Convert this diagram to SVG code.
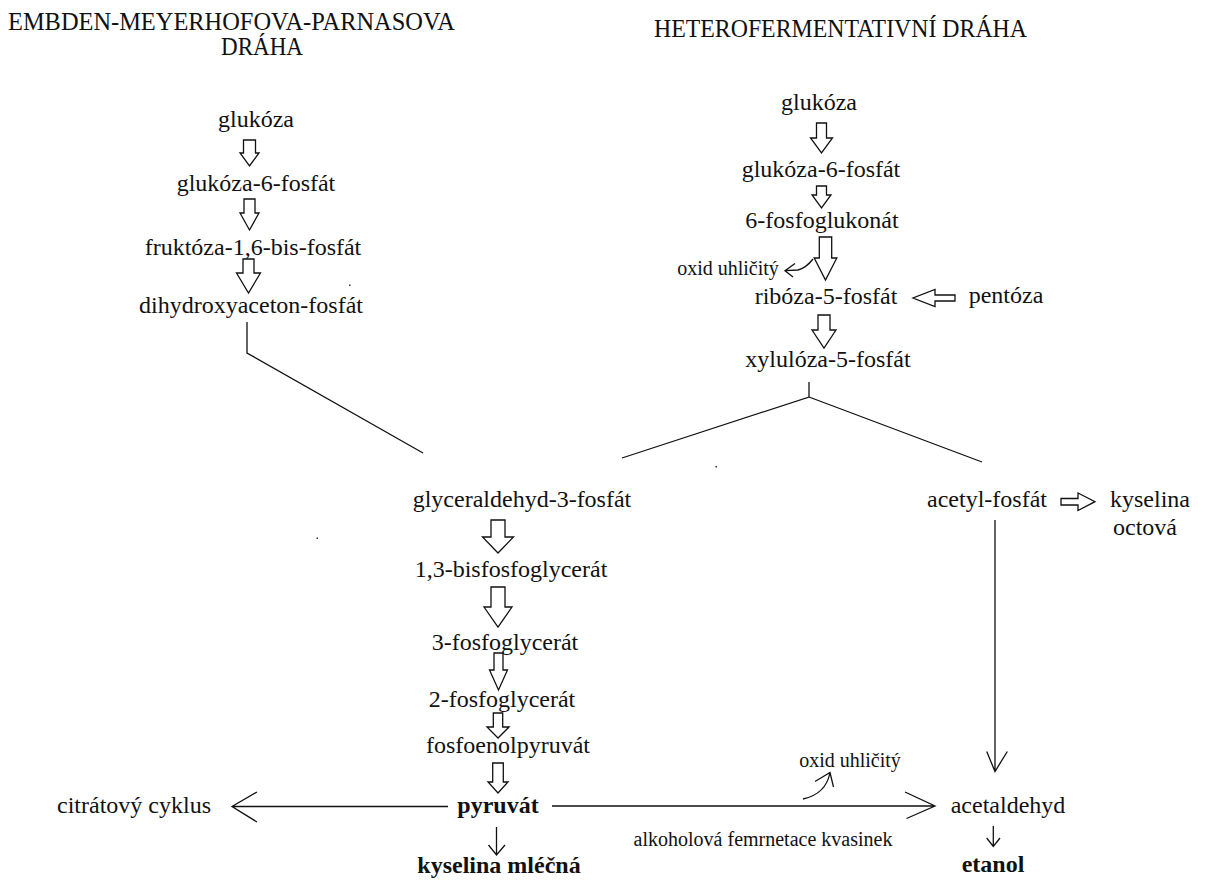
<svg xmlns="http://www.w3.org/2000/svg" width="1208" height="881" viewBox="0 0 1208 881">
<style>
text{font-family:"Liberation Serif","Times New Roman",serif;fill:#111;font-size:24px}
.m{text-anchor:middle}
.b{font-weight:bold}
.s{font-size:20px}
.h{font-size:25px}
.ha{fill:#fff;stroke:#111;stroke-width:1.3;stroke-linejoin:miter}
.ln{fill:none;stroke:#111;stroke-width:1.3}
</style>
<rect width="1208" height="881" fill="#fff"/>
<g id="headers">
<text class="h" x="8" y="30" textLength="447" lengthAdjust="spacingAndGlyphs">EMBDEN-MEYERHOFOVA-PARNASOVA</text>
<text class="h" x="221" y="55" textLength="82" lengthAdjust="spacingAndGlyphs">DRÁHA</text>
<text class="h" x="654" y="37" textLength="373" lengthAdjust="spacingAndGlyphs">HETEROFERMENTATIVNÍ DRÁHA</text>
</g>
<g id="n-glukoza-l"><text class="m" x="256" y="127">glukóza</text></g>
<g id="n-g6p-l"><text class="m" x="256" y="191">glukóza-6-fosfát</text></g>
<g id="n-f16bp"><text class="m" x="253" y="255">fruktóza-1,6-bis-fosfát</text></g>
<g id="n-dhap"><text class="m" x="251" y="313">dihydroxyaceton-fosfát</text></g>
<g id="n-glukoza-r"><text class="m" x="819" y="110">glukóza</text></g>
<g id="n-g6p-r"><text class="m" x="821" y="177">glukóza-6-fosfát</text></g>
<g id="n-6pg"><text class="m" x="822" y="228">6-fosfoglukonát</text></g>
<g id="n-co2-top"><text class="s m" x="728" y="275">oxid uhličitý</text></g>
<g id="n-r5p"><text class="m" x="826" y="304">ribóza-5-fosfát</text></g>
<g id="n-pentoza"><text class="m" x="1006" y="303">pentóza</text></g>
<g id="n-x5p"><text class="m" x="828" y="367">xylulóza-5-fosfát</text></g>
<g id="n-gap"><text class="m" x="522" y="507">glyceraldehyd-3-fosfát</text></g>
<g id="n-acetylp"><text class="m" x="987" y="507">acetyl-fosfát</text></g>
<g id="n-octova"><text x="1110" y="507">kyselina</text><text x="1113" y="535">octová</text></g>
<g id="n-13bpg"><text class="m" x="511" y="577">1,3-bisfosfoglycerát</text></g>
<g id="n-3pg"><text class="m" x="505" y="650">3-fosfoglycerát</text></g>
<g id="n-2pg"><text class="m" x="502" y="707">2-fosfoglycerát</text></g>
<g id="n-pep"><text class="m" x="508" y="753">fosfoenolpyruvát</text></g>
<g id="n-co2-bottom"><text class="s m" x="850" y="767">oxid uhličitý</text></g>
<g id="n-citrat"><text class="m" x="134" y="813">citrátový cyklus</text></g>
<g id="n-pyruvat"><text class="m b" x="498" y="813">pyruvát</text></g>
<g id="n-acetaldehyd"><text class="m" x="1008" y="813">acetaldehyd</text></g>
<g id="n-alkohol"><text class="s m" x="763" y="846">alkoholová femrnetace kvasinek</text></g>
<g id="n-laktat"><text class="m b" x="499" y="873">kyselina mléčná</text></g>
<g id="n-etanol"><text class="m b" x="993" y="872">etanol</text></g>
<g id="connectors">
<polygon class="ha" points="243.5,140 255.5,140 255.5,153 259,153 249.5,166 240,153 243.5,153"/>
<polygon class="ha" points="244,199 255,199 255,213 259,213 249.5,230 240,213 244,213"/>
<polygon class="ha" points="243,259 254,259 254,273 260.5,273 248.5,293 236.5,273 243,273"/>
<polygon class="ha" points="816.5,123 826.5,123 826.5,138 832.5,138 821.5,153 810.5,138 816.5,138"/>
<polygon class="ha" points="816.5,186 826.5,186 826.5,195 831,195 821.5,208 812,195 816.5,195"/>
<polygon class="ha" points="819.3,237 831.7,237 831.7,258 836.8,258 825.5,280 814.2,258 819.3,258"/>
<polygon class="ha" points="818,315 830,315 830,330 836,330 824,348 812,330 818,330"/>
<polygon class="ha" points="955,295 955,301 935,301 935,306.5 913,298 935,289.5 935,295"/>
<polygon class="ha" points="491,520 505,520 505,537 513.5,537 498,553 482.5,537 491,537"/>
<polygon class="ha" points="491,587 505,587 505,607 512,607 498,627 484,607 491,607"/>
<polygon class="ha" points="494,653 503,653 503,670 507.5,670 498.5,690 489.5,670 494,670"/>
<polygon class="ha" points="493.3,713 502.7,713 502.7,727 509,727 498,738 487,727 493.3,727"/>
<polygon class="ha" points="492.7,763 503.3,763 503.3,782 508,782 498,793 488,782 492.7,782"/>
<polygon class="ha" points="1061,498.5 1078,498.5 1078,493 1095,501.7 1078,510.5 1078,505 1061,505"/>
<path class="ln" d="M813,259 Q806,268 798,270 L785,270.7 M795,263.5 L785,270.7 L793,277"/>
<path class="ln" d="M247,322 V353 L423,453"/>
<path class="ln" d="M809,382 V397 L622,458 M809,397 L982,462"/>
<path class="ln" d="M995,520 V771.5 M986.7,751.5 L995,771.5 L1007.3,751.5"/>
<path class="ln" d="M448,806.5 H232 M257,792 L232,806.5 L257,822"/>
<path class="ln" d="M552,806 H935 M905,792 L935,806 L906.5,818.5"/>
<path class="ln" d="M803,799 Q826,794 830,772.5 M815,781.5 L830,772.5 L833.5,787"/>
<path class="ln" d="M496.5,827 V855 M488.5,845 L496.5,855 L505,845"/>
<path class="ln" d="M993.3,826 V846.5 M986.7,838 L993.3,846.5 L1000,838"/>
</g>
<g id="specks" fill="#333">
<rect x="349" y="284.5" width="1.5" height="1.5"/>
<rect x="715.5" y="466" width="1.5" height="1.5"/>
<rect x="316.5" y="537.5" width="1.5" height="1.5"/>
</g>
</svg>
